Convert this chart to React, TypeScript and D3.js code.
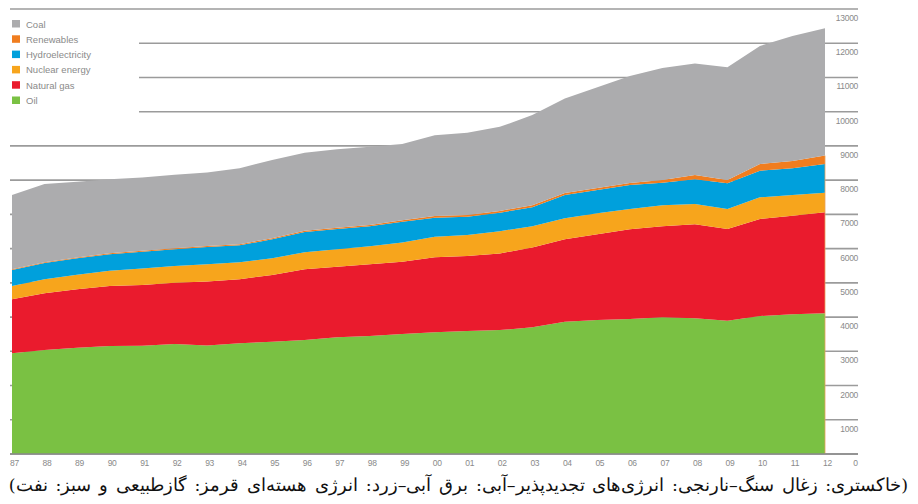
import React from "react";
import * as d3 from "d3";

const years = [
  1987, 1988, 1989, 1990, 1991, 1992, 1993, 1994, 1995, 1996, 1997, 1998, 1999,
  2000, 2001, 2002, 2003, 2004, 2005, 2006, 2007, 2008, 2009, 2010, 2011, 2012,
];
const oil = [
  2940, 3040, 3105, 3155, 3165, 3215, 3170, 3235, 3280, 3330, 3410, 3445, 3505,
  3555, 3595, 3620, 3700, 3865, 3915, 3945, 3995, 3965, 3895, 4030, 4080, 4110,
];
const gas = [
  1580, 1655, 1705, 1750, 1770, 1790, 1870, 1870, 1950, 2065, 2060, 2095, 2110,
  2190, 2190, 2240, 2335, 2405, 2505, 2620, 2655, 2745, 2680, 2835, 2880, 2950,
];
const nuclear = [
  390, 410, 425, 450, 485, 487, 500, 497, 490, 497, 510, 530, 565,
  600, 613, 650, 622, 620, 615, 595, 615, 595, 585, 635, 605, 575,
];
const hydro = [
  468, 475, 486, 484, 490, 490, 507, 495, 553, 597, 595, 581, 608,
  560, 535, 540, 555, 675, 680, 700, 660, 720, 750, 775, 780, 840,
];
const renewables = [
  20, 22, 23, 24, 25, 27, 28, 30, 32, 34, 36, 38, 41,
  45, 48, 52, 58, 59, 58, 60, 80, 125, 97, 195, 215, 242,
];
const coal = [
  2170, 2285, 2210, 2160, 2145, 2150, 2150, 2220, 2285, 2280, 2290, 2285, 2225,
  2365, 2405, 2455, 2630, 2765, 2940, 3120, 3275, 3260, 3290, 3450, 3650, 3720,
];

const keys = ["oil", "gas", "nuclear", "hydro", "renewables", "coal"];
const colors: Record<string, string> = {
  oil: "#7ac143",
  gas: "#ea1b2d",
  nuclear: "#f7a51c",
  hydro: "#00a0dc",
  renewables: "#f07d1f",
  coal: "#acacae",
};
const legendItems = [
  { key: "coal", label: "Coal" },
  { key: "renewables", label: "Renewables" },
  { key: "hydro", label: "Hydroelectricity" },
  { key: "nuclear", label: "Nuclear energy" },
  { key: "gas", label: "Natural gas" },
  { key: "oil", label: "Oil" },
];
const yTicks = d3.range(0, 14000, 1000);
const caption =
  "(خاکستری: زغال سنگ–نارنجی: انرژی‌های تجدیدپذیر–آبی: برق آبی–زرد: انرژی هسته‌ای قرمز: گازطبیعی و سبز: نفت)";

const App = () => {
  const width = 918;
  const height = 504;

  const rows = years.map((year, i) => ({
    year,
    oil: oil[i],
    gas: gas[i],
    nuclear: nuclear[i],
    hydro: hydro[i],
    renewables: renewables[i],
    coal: coal[i],
  }));

  const x = d3.scaleLinear().domain([1987, 2012]).range([12, 825]);
  const y = d3.scaleLinear().domain([0, 13000]).range([454, 9]);

  const series = d3.stack<any>().keys(keys)(rows);
  const area = d3
    .area<any>()
    .x((d) => x(d.data.year))
    .y0((d) => y(d[0]))
    .y1((d) => y(d[1]));

  return (
    <svg
      width={width}
      height={height}
      style={{ position: "absolute", left: 0, top: 0, background: "#fff" }}
    >
      {yTicks.map((t) => (
        <line
          key={t}
          x1={10}
          x2={858}
          y1={y(t)}
          y2={y(t)}
          stroke="#9b9b9b"
          strokeWidth={1.6}
        />
      ))}
      <rect x={0} y={13} width={139} height={112} fill="#fff" />

      {series.map((s) => (
        <path key={s.key} d={area(s) || ""} fill={colors[s.key]} />
      ))}
      <line
        x1={x(2012)}
        x2={x(2012)}
        y1={y(0)}
        y2={y(series[4][25][1])}
        stroke="#e9a15a"
        strokeWidth={0.8}
      />
      <line x1={10} x2={858} y1={y(0)} y2={y(0)} stroke="#8a8a8a" strokeWidth={1.6} />

      {yTicks.map((t) => (
        <text
          key={t}
          x={858}
          y={y(t) + 12}
          textAnchor="end"
          fontFamily="Liberation Sans, Arial, sans-serif"
          fontSize={8.5}
          letterSpacing={-0.3}
          fill="#8a8a8a"
        >
          {t === 0 ? "" : t}
        </text>
      ))}
      <text
        x={855.5}
        y={y(0) + 12}
        textAnchor="middle"
        fontFamily="Liberation Sans, Arial, sans-serif"
        fontSize={8.5}
        fill="#8a8a8a"
      >
        0
      </text>

      {years.map((yr) => (
        <text
          key={yr}
          x={x(yr) + 2.5}
          y={y(0) + 12}
          textAnchor="middle"
          fontFamily="Liberation Sans, Arial, sans-serif"
          fontSize={8.5}
          letterSpacing={-0.3}
          fill="#8a8a8a"
        >
          {String(yr).slice(2)}
        </text>
      ))}

      {legendItems.map((item, i) => (
        <g key={item.key} transform={`translate(12, ${20 + i * 15.3})`}>
          <rect width={8} height={7.5} fill={colors[item.key]} />
          <text
            x={14}
            y={7.5}
            fontFamily="Liberation Sans, Arial, sans-serif"
            fontSize={9.5}
            fill="#8a8a8a"
          >
            {item.label}
          </text>
        </g>
      ))}

      <text
        x={908}
        y={491}
        direction="rtl"
        textAnchor="start"
        fontFamily="DejaVu Serif, serif"
        fontSize={17.5}
        wordSpacing={2.2}
        fill="#111"
        style={{ direction: "rtl", unicodeBidi: "embed" }}
      >
        {caption}
      </text>
    </svg>
  );
};

export default App;
